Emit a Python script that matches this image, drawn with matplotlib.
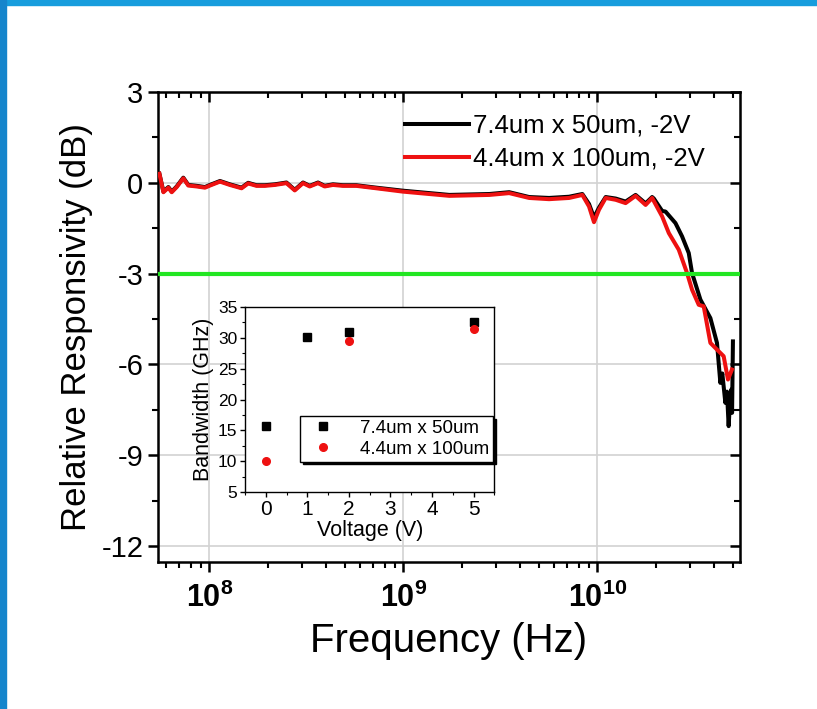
import numpy as np
import matplotlib.pyplot as plt
from matplotlib.patches import Rectangle

plt.rcParams['font.family'] = ['Liberation Sans', 'DejaVu Sans']
plt.rcParams['mathtext.default'] = 'regular'

# Frequency response (frequency in GHz, relative responsivity in dB)
freq_black = [0.0552, 0.0579, 0.0614, 0.0639, 0.0678, 0.0733, 0.0778, 0.0859, 0.0948,
              0.1006, 0.1133, 0.1274, 0.1464, 0.1583, 0.1748, 0.1929, 0.2172, 0.2494,
              0.2752, 0.3036, 0.3287, 0.3626, 0.3925, 0.4330, 0.4874, 0.5712, 0.7237,
              0.9918, 1.257, 1.724, 2.769, 3.508, 4.445, 5.632, 7.137, 8.355, 9.045,
              9.594, 10.18, 11.02, 12.41, 13.96, 15.72, 17.70, 19.13, 19.52, 21.54,
              22.42, 25.23, 26.24, 27.29, 29.54, 30.72, 33.93, 38.19, 41.30, 42.99,
              44.0, 45.62, 46.5, 47.44, 48.2, 48.98, 49.4, 49.91]
db_black = [0.30, -0.29, -0.14, -0.29, -0.12, 0.17, -0.07, -0.10, -0.14,
            -0.07, 0.06, -0.05, -0.16, 0.0, -0.08, -0.08, -0.05, 0.01,
            -0.23, 0.01, -0.10, 0.01, -0.10, -0.05, -0.08, -0.08, -0.16,
            -0.26, -0.32, -0.40, -0.37, -0.31, -0.47, -0.50, -0.46, -0.37, -0.70,
            -1.15, -0.82, -0.47, -0.52, -0.62, -0.40, -0.68, -0.47, -0.52, -0.93,
            -0.95, -1.33, -1.55, -1.77, -2.32, -2.98, -3.86, -4.47, -5.29, -6.61,
            -6.30, -7.27, -6.90, -8.04, -7.20, -6.83, -7.60, -5.24]

freq_red = [0.0552, 0.0579, 0.0614, 0.0639, 0.0678, 0.0733, 0.0778, 0.0859, 0.0948,
            0.1006, 0.1133, 0.1274, 0.1464, 0.1583, 0.1748, 0.1929, 0.2172, 0.2494,
            0.2752, 0.3036, 0.3287, 0.3626, 0.3925, 0.4330, 0.4874, 0.5712, 0.7237,
            0.9918, 1.257, 1.724, 2.769, 3.508, 4.445, 5.632, 7.137, 8.355, 9.045,
            9.594, 10.18, 11.02, 12.41, 13.96, 15.72, 17.70, 19.13, 21.54,
            23.32, 26.24, 28.95, 30.72, 33.25, 35.28, 38.19, 41.30, 44.71, 47.05, 49.32]
db_red = [0.30, -0.31, -0.16, -0.31, -0.14, 0.15, -0.09, -0.12, -0.16,
          -0.09, 0.04, -0.07, -0.18, -0.02, -0.10, -0.10, -0.07, -0.01,
          -0.25, -0.01, -0.12, -0.01, -0.12, -0.07, -0.10, -0.10, -0.18,
          -0.29, -0.35, -0.43, -0.40, -0.34, -0.50, -0.54, -0.50, -0.40, -0.78,
          -1.30, -0.89, -0.50, -0.56, -0.67, -0.43, -0.73, -0.50, -1.11,
          -1.66, -2.21, -2.98, -3.53, -4.03, -4.08, -5.29, -5.51, -5.73, -6.50, -6.17]

# Inset: bandwidth vs reverse bias
volt_black = [0, 1, 2, 5]
bw_black = [15.7, 30.2, 31.0, 32.6]
volt_red = [0, 2, 5]
bw_red = [10.1, 29.5, 31.5]

fig = plt.figure(figsize=(8.17, 7.09), dpi=100)

# slide frame (thin blue strips on the top and left edge)
fig.patches.append(Rectangle((0, 0.993), 1, 0.007, transform=fig.transFigure,
                             color='#179ddd', zorder=0))
fig.patches.append(Rectangle((0, 0), 0.0075, 1, transform=fig.transFigure,
                             color='#1585cc', zorder=0))

ax = fig.add_axes([0.1934, 0.2073, 0.7124, 0.6629])
ax.set_xscale('log')
ax.set_xlim(5.43e7, 5.43e10)
ax.set_ylim(-12.53, 3)

for v in [1e8, 1e9, 1e10]:
    ax.axvline(v, color='#d2d2d2', lw=1.2, zorder=0)
for v in [0, -6, -9, -12]:
    ax.axhline(v, color='#d2d2d2', lw=1.2, zorder=0)

ax.plot(np.array(freq_black) * 1e9, db_black, color='black', lw=2.9,
        label='7.4um x 50um, -2V', zorder=3)
ax.plot(np.array(freq_red) * 1e9, db_red, color='#ee1111', lw=2.9,
        label='4.4um x 100um, -2V', zorder=4)
ax.axhline(-3, color='#22e622', lw=3, zorder=5)

ax.set_yticks([3, 0, -3, -6, -9, -12])
ax.set_yticks(np.arange(-10.5, 3, 3), minor=True)
ax.set_yticklabels(['3', '0', '-3', '-6', '-9', '-12'], fontsize=21)
ax.set_xticks([1e8, 1e9, 1e10])
ax.set_xticklabels(['10$^{8}$', '10$^{9}$', '10$^{10}$'], fontsize=22, fontweight='bold')
ax.tick_params(which='major', direction='out', length=7, width=1.8)
ax.tick_params(which='minor', direction='out', length=4, width=1.5)
ax.tick_params(axis='x', pad=8)
for s in ax.spines.values():
    s.set_linewidth(1.8)

top = ax.secondary_xaxis('top')
top.tick_params(which='major', direction='in', length=7, width=1.8, labeltop=False)
top.tick_params(which='minor', direction='in', length=4, width=1.5)
top.set_xticks([1e8, 1e9, 1e10])
right = ax.secondary_yaxis('right')
right.set_yticks([3, 0, -3, -6, -9, -12])
right.set_yticks(np.arange(-10.5, 3, 3), minor=True)
right.tick_params(which='major', direction='in', length=7, width=1.8, labelright=False)
right.tick_params(which='minor', direction='in', length=4, width=1.5)

ax.set_xlabel('Frequency (Hz)', fontsize=29, labelpad=6)
ax.set_ylabel('Relative Responsivity (dB)', fontsize=25, labelpad=6)

ax.legend(loc='upper left', bbox_to_anchor=(405 / 817, 1 - 114 / 709),
          bbox_transform=fig.transFigure, frameon=False,
          fontsize=18.5, handlelength=2.5, handletextpad=0.15, labelspacing=0.35,
          borderpad=0, borderaxespad=0)

# inset
ins = fig.add_axes([0.300, 0.306, 0.305, 0.261])
ins.set_facecolor('white')
ins.set_zorder(10)
ins.plot(volt_black, bw_black, 's', color='black', ms=5.5, label='7.4um x 50um')
ins.plot(volt_red, bw_red, 'o', color='#ee1111', ms=5.5, label='4.4um x 100um')
ins.set_xlim(-0.5, 5.5)
ins.set_ylim(5, 35)
ins.set_xticks(range(6))
ins.set_xticks(np.arange(-0.5, 5.6, 0.5), minor=True)
ins.set_yticks(range(5, 36, 5))
ins.set_yticks(np.arange(7.5, 35, 5), minor=True)
ins.tick_params(axis='x', labelsize=15, pad=2)
ins.tick_params(axis='y', labelsize=12.5, pad=2)
ins.tick_params(which='major', direction='out', length=3.5, width=1)
ins.tick_params(which='minor', direction='out', length=2, width=0.8)
ins.set_xlabel('Voltage (V)', fontsize=15.5, labelpad=1)
ins.set_ylabel('Bandwidth (GHz)', fontsize=15.5, labelpad=3)
for s in ins.spines.values():
    s.set_linewidth(1)
leg = ins.legend(loc='upper left', bbox_to_anchor=(300 / 817, 1 - 416 / 709),
                 bbox_transform=fig.transFigure, fontsize=13.5, fancybox=False,
                 shadow={'color': 'black', 'alpha': 1}, edgecolor='black',
                 framealpha=1, borderpad=0.2, handletextpad=1.0,
                 labelspacing=0.2, borderaxespad=0)
leg.get_frame().set_linewidth(1)

fig.savefig('out.png', dpi=100)
